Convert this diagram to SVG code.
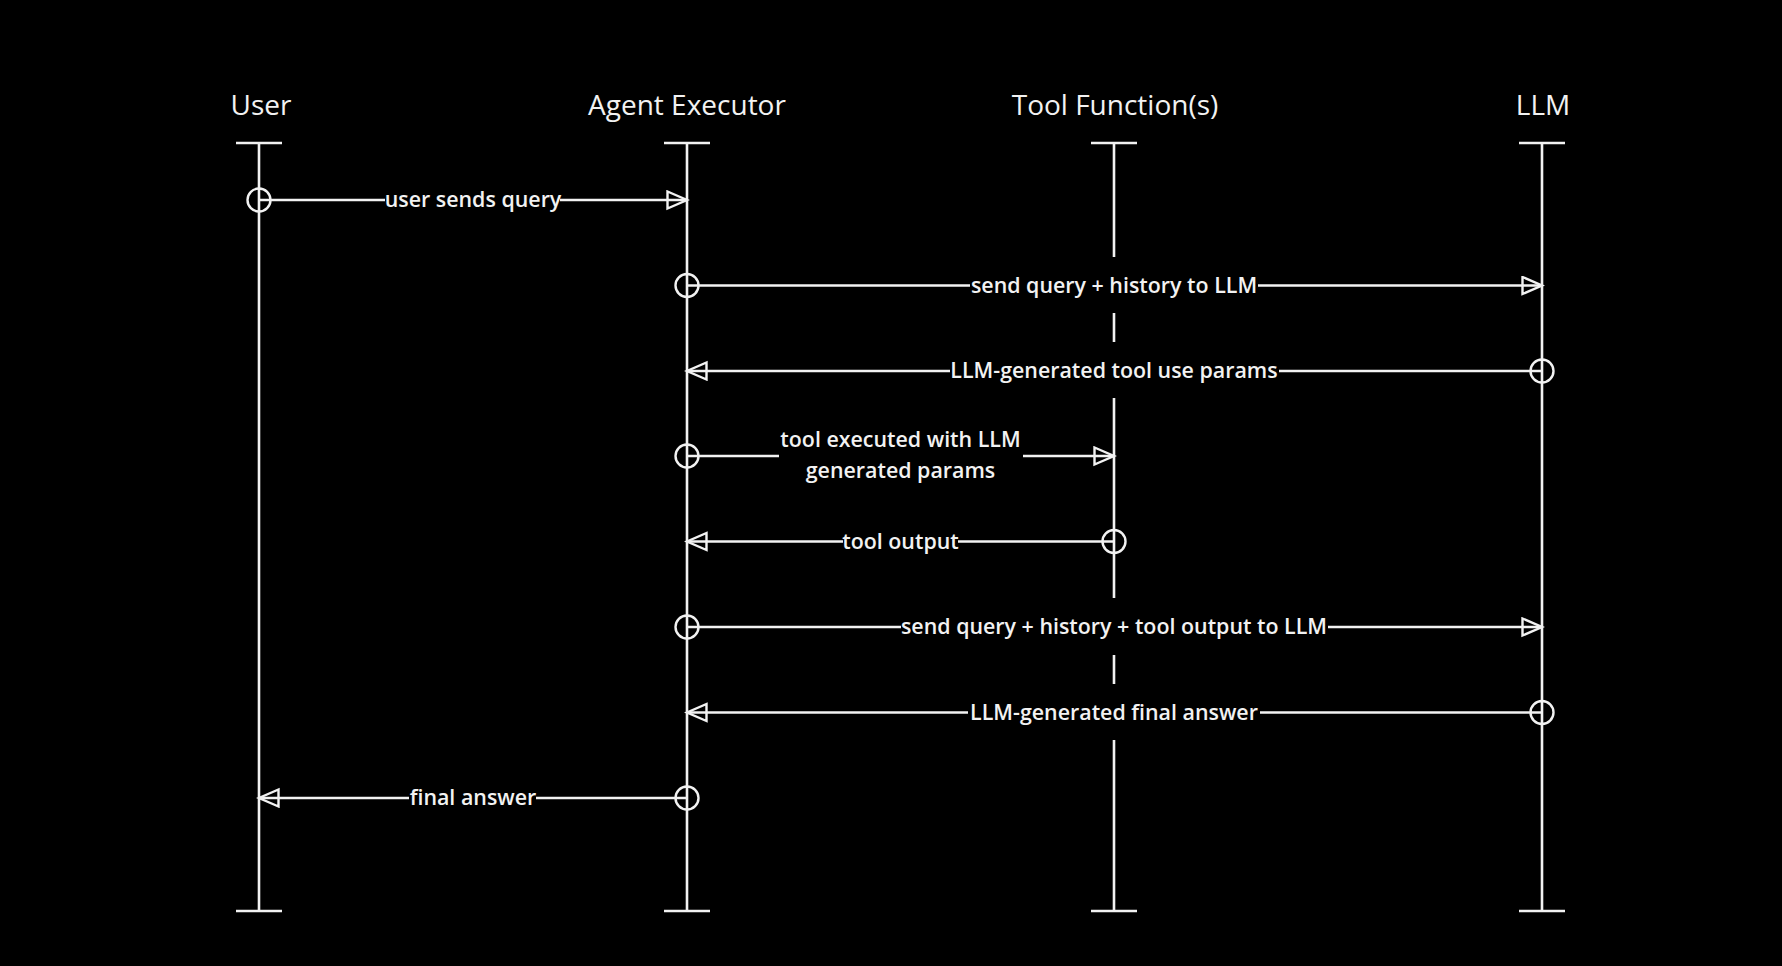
<svg xmlns="http://www.w3.org/2000/svg" width="1782" height="966" viewBox="0 0 1782 966">
<defs>
<style>
.bg{fill:#000}
.life{stroke:#f2f2f2;stroke-width:2.6;fill:none}
.msg{stroke:#f2f2f2;stroke-width:2.6;fill:none;marker-end:url(#arr)}
.dot{stroke:#f2f2f2;stroke-width:2.4;fill:none}
.lblbg{fill:#000}
.head{font-family:"Open Sans","DejaVu Sans",sans-serif;font-size:28px;fill:#f2f2f2;text-anchor:middle;font-weight:500}
.lbl{font-family:"Open Sans","DejaVu Sans",sans-serif;font-size:21.4px;fill:#f2f2f2;text-anchor:middle;font-weight:600}
</style>
<marker id="arr" markerUnits="userSpaceOnUse" markerWidth="24" markerHeight="22" refX="21" refY="10" orient="auto">
<path d="M1.5,1.5 L21,10 L1.5,18.5 Z" fill="none" stroke="#f2f2f2" stroke-width="2.4" stroke-linejoin="miter"/>
</marker>
</defs>
<rect class="bg" x="0" y="0" width="1782" height="966"/>

<g id="user">
<text class="head" x="261" y="115">User</text>
<line class="life" x1="236" y1="143" x2="282" y2="143"/>
<line class="life" x1="259" y1="143" x2="259" y2="911"/>
<line class="life" x1="236" y1="911" x2="282" y2="911"/>
</g>
<g id="agent-executor">
<text class="head" x="687" y="115">Agent Executor</text>
<line class="life" x1="664" y1="143" x2="710" y2="143"/>
<line class="life" x1="687" y1="143" x2="687" y2="911"/>
<line class="life" x1="664" y1="911" x2="710" y2="911"/>
</g>
<g id="tool-functions">
<text class="head" x="1115" y="115">Tool Function(s)</text>
<line class="life" x1="1091" y1="143" x2="1137" y2="143"/>
<line class="life" x1="1114" y1="143" x2="1114" y2="911"/>
<line class="life" x1="1091" y1="911" x2="1137" y2="911"/>
</g>
<g id="llm">
<text class="head" x="1543" y="115">LLM</text>
<line class="life" x1="1519" y1="143" x2="1565" y2="143"/>
<line class="life" x1="1542" y1="143" x2="1542" y2="911"/>
<line class="life" x1="1519" y1="911" x2="1565" y2="911"/>
</g>

<g id="connectors">
<line class="msg" x1="259" y1="200" x2="687" y2="200"/>
<line class="msg" x1="687" y1="285.5" x2="1542" y2="285.5"/>
<line class="msg" x1="1542" y1="371" x2="687" y2="371"/>
<line class="msg" x1="687" y1="456" x2="1114" y2="456"/>
<line class="msg" x1="1114" y1="541.5" x2="687" y2="541.5"/>
<line class="msg" x1="687" y1="627" x2="1542" y2="627"/>
<line class="msg" x1="1542" y1="712.5" x2="687" y2="712.5"/>
<line class="msg" x1="687" y1="798" x2="259" y2="798"/>

<rect class="lblbg" x="385" y="186" width="175" height="28"/>
<rect class="lblbg" x="970" y="257" width="288" height="56"/>
<rect class="lblbg" x="950" y="342" width="329" height="56"/>
<rect class="lblbg" x="779" y="428" width="244" height="56"/>
<rect class="lblbg" x="843" y="528" width="115" height="28"/>
<rect class="lblbg" x="901" y="598" width="427" height="57"/>
<rect class="lblbg" x="968" y="684" width="292" height="56"/>
<rect class="lblbg" x="409" y="784" width="127" height="28"/>

<text class="lbl" x="473" y="207">user sends query</text>
<text class="lbl" x="1114" y="292.5">send query + history to LLM</text>
<text class="lbl" x="1114" y="378">LLM-generated tool use params</text>
<text class="lbl" x="900.5" y="447">tool executed with LLM</text>
<text class="lbl" x="900.5" y="478">generated params</text>
<text class="lbl" x="900.5" y="548.5">tool output</text>
<text class="lbl" x="1114" y="634">send query + history + tool output to LLM</text>
<text class="lbl" x="1114" y="719.5">LLM-generated final answer</text>
<text class="lbl" x="473" y="805">final answer</text>

<circle class="dot" cx="259" cy="200" r="11.5"/>
<circle class="dot" cx="687" cy="285.5" r="11.5"/>
<circle class="dot" cx="1542" cy="371" r="11.5"/>
<circle class="dot" cx="687" cy="456" r="11.5"/>
<circle class="dot" cx="1114" cy="541.5" r="11.5"/>
<circle class="dot" cx="687" cy="627" r="11.5"/>
<circle class="dot" cx="1542" cy="712.5" r="11.5"/>
<circle class="dot" cx="687" cy="798" r="11.5"/>
</g>
</svg>
